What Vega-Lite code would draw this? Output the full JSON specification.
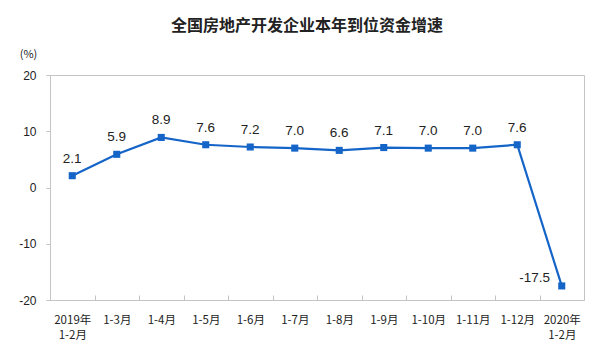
{
  "$schema": "https://vega.github.io/schema/vega-lite/v6.json",
  "width": 534,
  "height": 225,
  "autosize": {"type": "none"},
  "padding": {"left": 50, "top": 75, "right": 25, "bottom": 63},
  "background": "white",
  "title": {
    "text": "全国房地产开发企业本年到位资金增速",
    "font": "Noto Sans CJK SC",
    "fontSize": 16,
    "fontWeight": "bold",
    "color": "#222222",
    "anchor": "middle",
    "dx": -10,
    "offset": 14
  },
  "config": {
    "view": {"stroke": "#c4c4c4", "strokeWidth": 1},
    "font": "Noto Sans CJK SC",
    "locale": {"number": {"decimal": ".", "thousands": ",", "grouping": [3], "currency": ["", ""], "minus": "-"}}
  },
  "data": {
    "values": [
      {"period": "2019年|1-2月", "value": 2.1},
      {"period": "1-3月", "value": 5.9},
      {"period": "1-4月", "value": 8.9},
      {"period": "1-5月", "value": 7.6},
      {"period": "1-6月", "value": 7.2},
      {"period": "1-7月", "value": 7.0},
      {"period": "1-8月", "value": 6.6},
      {"period": "1-9月", "value": 7.1},
      {"period": "1-10月", "value": 7.0},
      {"period": "1-11月", "value": 7.0},
      {"period": "1-12月", "value": 7.6},
      {"period": "2020年|1-2月", "value": -17.5}
    ]
  },
  "encoding": {
    "x": {
      "field": "period",
      "type": "nominal",
      "sort": null,
      "scale": {"paddingInner": 0, "paddingOuter": 0},
      "axis": {
        "title": null,
        "labelAngle": 0,
        "labelExpr": "split(datum.label, '|')",
        "labelFont": "Noto Sans CJK SC",
        "labelFontSize": 11.5,
        "labelColor": "#222222",
        "labelLineHeight": 15,
        "labelPadding": 19,
        "labelBaseline": "top",
        "tickBand": "extent",
        "tickSize": -5,
        "tickColor": "#c4c4c4",
        "domainColor": "#c4c4c4",
        "grid": false
      }
    },
    "y": {
      "field": "value",
      "type": "quantitative",
      "scale": {"domain": [-20, 20], "nice": false},
      "axis": {
        "title": "(%)",
        "titleAngle": 0,
        "titleX": -22,
        "titleY": -21,
        "titleAlign": "center",
        "titleBaseline": "middle",
        "titleFont": "Noto Sans CJK SC",
        "titleFontSize": 11,
        "titleFontWeight": "normal",
        "titleColor": "#222222",
        "values": [-20, -10, 0, 10, 20],
        "format": "d",
        "labelFont": "Liberation Sans",
        "labelFontSize": 12,
        "labelColor": "#222222",
        "labelPadding": 10,
        "tickSize": 4,
        "tickColor": "#c4c4c4",
        "domainColor": "#c4c4c4",
        "grid": false
      }
    }
  },
  "layer": [
    {
      "mark": {"type": "line", "color": "#1565c8", "strokeWidth": 2.2}
    },
    {
      "mark": {"type": "square", "color": "#1565c8", "opacity": 1, "size": 50, "filled": true}
    },
    {
      "transform": [{"filter": "datum.value >= 0"}],
      "mark": {"type": "text", "dy": -17, "font": "Liberation Sans", "fontSize": 13.5, "color": "#222222", "baseline": "middle"},
      "encoding": {"text": {"field": "value", "type": "quantitative", "format": ".1f"}}
    },
    {
      "transform": [{"filter": "datum.value < 0"}],
      "mark": {"type": "text", "dx": -27, "dy": -8, "font": "Liberation Sans", "fontSize": 13.5, "color": "#222222", "baseline": "middle"},
      "encoding": {"text": {"field": "value", "type": "quantitative", "format": ".1f"}}
    }
  ]
}
